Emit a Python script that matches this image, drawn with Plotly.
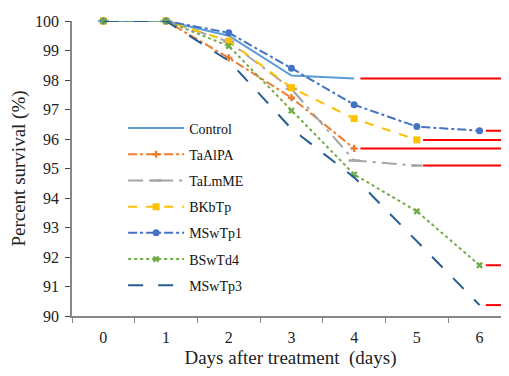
import plotly.graph_objects as go

days = [0, 1, 2, 3, 4, 5, 6]
tick_labels = ["0", "1", "2", "3", "4", "5", "6"]

control = [100, 100, 99.5, 98.15, 98.05, None, None]
taalpa = [100, 100, 98.75, 97.4, 95.68, None, None]
talmme = [100, 100, 99.3, 97.7, 95.27, 95.1, None]
bkbtp = [100, 100, 99.32, 97.74, 96.69, 95.97, None]
mswtp1 = [100, 100, 99.6, 98.4, 97.16, 96.42, 96.28]
bswtd4 = [100, 100, 99.15, 96.96, 94.8, 93.55, 91.72]
mswtp3 = [100, 100, 98.65, 96.35, 94.7, 92.55, 90.37]

series = [
    ("Control", control, "#5B9BD5", "solid", None),
    ("TaAlPA", taalpa, "#ED7D31", "dashdot", "cross"),
    ("TaLmME", talmme, "#A5A5A5", "longdashdot", "line-ew"),
    ("BKbTp", bkbtp, "#FFC000", "dash", "square"),
    ("MSwTp1", mswtp1, "#4472C4", "dashdot", "circle"),
    ("BSwTd4", bswtd4, "#70AD47", "dot", "x"),
    ("MSwTp3", mswtp3, "#255E91", "longdash", None),
]

x_end = 6.47
fig = go.Figure()

for name, vals, color, dash, sym in series:
    xs = [d for d, v in zip(days, vals) if v is not None]
    ys = [v for v in vals if v is not None]
    # red horizontal extension from the last value to the right edge
    fig.add_trace(go.Scatter(
        x=[xs[-1] + 0.1, x_end], y=[ys[-1], ys[-1]], mode="lines",
        line=dict(color="#FF0000", width=2), showlegend=False, hoverinfo="skip",
        cliponaxis=False))

sizes = {"cross": 6, "line-ew": 8, "square": 7, "circle": 7, "x": 6}
for name, vals, color, dash, sym in series:
    xs = [d for d, v in zip(days, vals) if v is not None]
    ys = [v for v in vals if v is not None]
    mode = "lines+markers" if sym else "lines"
    marker = dict(symbol=sym or "circle", size=sizes.get(sym, 6), color=color,
                  line=dict(color=color, width=2.5 if sym == "line-ew" else 0))
    fig.add_trace(go.Scatter(
        x=xs, y=ys, name=name, mode=mode, line=dict(color=color, width=2, dash=dash),
        marker=marker, legendgroup=name, cliponaxis=False))

fig.update_layout(
    width=501, height=368,
    margin=dict(l=64, r=0, t=13, b=60),
    paper_bgcolor="white", plot_bgcolor="white",
    font=dict(family="Liberation Serif", size=16, color="#222222"),
    showlegend=True,
    legend=dict(x=0.117, y=0.69, xanchor="left", yanchor="top",
                bgcolor="rgba(0,0,0,0)", font=dict(size=14, color="#111111"),
                tracegroupgap=5, itemwidth=56),
    xaxis=dict(range=[-0.5, x_end], tickvals=days, ticktext=tick_labels,
               ticks="", showgrid=False, zeroline=False,
               showline=True, linecolor="#888888", linewidth=1.5,
               minor=dict(tickmode="array", tickvals=[-0.5, 0.5, 1.5, 2.5, 3.5, 4.5, 5.5],
                          ticks="outside", ticklen=5, tickcolor="#888888"),
               ticklabelstandoff=6,
               title=dict(text="Days after treatment  (days)", font=dict(size=19), standoff=6),
               tickfont=dict(size=16)),
    yaxis=dict(range=[90, 100], dtick=1, ticks="outside", ticklen=5, tickcolor="#444444",
               showgrid=False, zeroline=False, showline=True, linecolor="#888888", linewidth=1.5,
               ticklabelstandoff=3,
               title=dict(text="Percent survival (%)", font=dict(size=19), standoff=6),
               tickfont=dict(size=16)),
)

fig.write_html("out.html")
